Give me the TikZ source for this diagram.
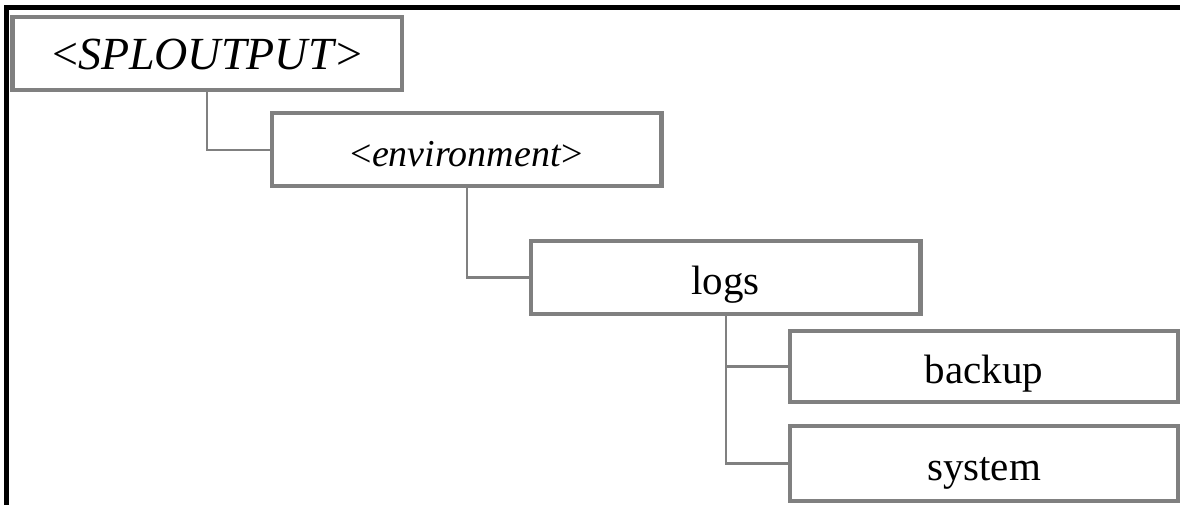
\documentclass[tikz,border=0pt]{standalone}
\usepackage{fontspec}
\setmainfont{Liberation Serif}
\definecolor{boxgray}{HTML}{808080}
\tikzset{
  treebox/.style={draw=boxgray, line width=4.4pt, fill=white, minimum width=389.5pt,
    minimum height=73pt, inner sep=0pt, text height=33pt, text depth=0pt,
    font=\fontsize{41}{43}\selectfont},
  treelink/.style={draw=boxgray, line width=2.2pt},
  frameline/.style={draw=black, line width=4.8pt}
}
\begin{document}
\begin{tikzpicture}[x=1pt,y=-1pt]
\useasboundingbox (0,0) rectangle (1180,505);
\draw[frameline] (6.3,505) -- (6.3,7.3) -- (1180,7.3);
\node[treebox, font=\fontsize{46}{48}\selectfont] (sp) at (207.25,53.5) {<\textit{SPLOUTPUT}>};
\node[treebox, font=\fontsize{38}{40}\selectfont] (env) at (466.75,149.75) {<\textit{environment}>};
\node[treebox] (logs) at (725.75,277.5) {logs};
\node[treebox, minimum width=388pt, minimum height=71pt] (backup) at (984,366.5) {backup};
\node[treebox, minimum width=388pt, minimum height=75pt] (system) at (984,463.5) {system};
\draw[treelink] (sp.south) |- (env.west);
\draw[treelink] (env.south) |- (logs.west);
\draw[treelink] (logs.south) |- (backup.west);
\draw[treelink] (logs.south) |- (system.west);
\end{tikzpicture}
\end{document}
